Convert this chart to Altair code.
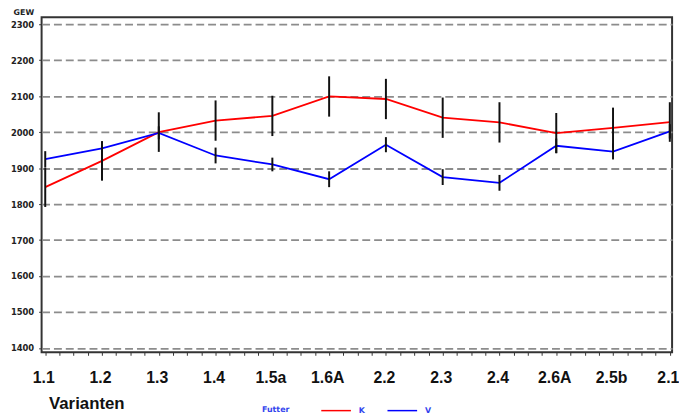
import altair as alt
import pandas as pd

categories = ["1.1", "1.2", "1.3", "1.4", "1.5a", "1.6A", "2.2", "2.3", "2.4", "2.6A", "2.5b", "2.1"]
k_values = [1847, 1920, 2000, 2032, 2045, 2099, 2092, 2040, 2027, 1997, 2012, 2028]
k_errors = [55, 55, 55, 56, 56, 56, 56, 56, 56, 56, 56, 55]
v_values = [1925, 1955, 1998, 1935, 1910, 1869, 1965, 1875, 1859, 1962, 1946, 2002]
v_errors = [22, 18, 18, 22, 19, 22, 21, 22, 22, 20, 22, 20]
y_ticks = [1400, 1500, 1600, 1700, 1800, 1900, 2000, 2100, 2200, 2300]
series_names = ["K", "V"]
series_colors = ["#ff0000", "#0000ff"]

rows = []
for i, c in enumerate(categories):
    rows.append({"idx": i, "cat": c, "Futter": "K", "value": k_values[i],
                 "lo": k_values[i] - k_errors[i], "hi": k_values[i] + k_errors[i]})
    rows.append({"idx": i, "cat": c, "Futter": "V", "value": v_values[i],
                 "lo": v_values[i] - v_errors[i], "hi": v_values[i] + v_errors[i]})
df = pd.DataFrame(rows)

cat_js = "[" + ",".join("'" + c + "'" for c in categories) + "]"
label_expr = f"abs(datum.value - round(datum.value)) < 0.01 ? {cat_js}[round(datum.value)] : ''"

x_scale = alt.Scale(domain=[-0.064, 11.04], nice=False, zero=False)
x_axis = alt.Axis(
    values=[i * 0.25 for i in range(45)],
    labelExpr=label_expr,
    labelOverlap=False,
    labelFlush=False,
    labelFont="Liberation Sans",
    labelFontWeight="bold",
    labelFontSize=16,
    labelColor="#111111",
    labelPadding=15,
    labelOffset=-2,
    tickSize=3,
    tickColor="#333333",
    domain=False,
    grid=False,
    title="Varianten",
    titleFont="Liberation Sans",
    titleFontWeight="bold",
    titleFontSize=17,
    titleColor="#111111",
    titleAnchor="start",
    titleAlign="left",
    titleX=7,
    titleY=52,
    titleBaseline="middle",
)

y_scale = alt.Scale(domain=[1388, 2319], nice=False, zero=False)
y_axis = alt.Axis(
    values=y_ticks,
    format="d",
    labelOverlap=False,
    labelFont="DejaVu Sans",
    labelFontWeight="bold",
    labelFontSize=8.5,
    labelColor="#222222",
    labelPadding=5,
    tickSize=3,
    tickColor="#333333",
    domain=False,
    grid=True,
    gridColor="#8c8c8c",
    gridDash=[8, 4],
    gridWidth=1.8,
    title="GEW",
    titleFont="DejaVu Sans",
    titleFontWeight="bold",
    titleFontSize=8,
    titleColor="#222222",
    titleAngle=0,
    titleAlign="right",
    titleBaseline="middle",
    titleX=-8,
    titleY=-5,
)

lines = alt.Chart(df).mark_line(strokeWidth=1.8).encode(
    x=alt.X("idx:Q", scale=x_scale, axis=x_axis),
    y=alt.Y("value:Q", scale=y_scale, axis=y_axis),
    color=alt.Color(
        "Futter:N",
        scale=alt.Scale(domain=series_names, range=series_colors),
        legend=alt.Legend(
            orient="none",
            legendX=223,
            legendY=392,
            direction="horizontal",
            titleOrient="left",
            title="Futter",
            titleFont="DejaVu Sans",
            titleFontSize=8,
            titleFontWeight="bold",
            titleColor="#3344ee",
            titlePadding=31,
            labelFont="DejaVu Sans",
            labelFontSize=8,
            labelFontWeight="bold",
            labelColor="#3344ee",
            labelOffset=27,
            columnPadding=19,
            symbolType="M-1,0L5,0",
            symbolSize=100,
            symbolStrokeWidth=1.5,
        ),
    ),
    detail="Futter:N",
)

errbars = alt.Chart(df).mark_rule(color="#111111", strokeWidth=2).encode(
    x=alt.X("idx:Q", scale=x_scale, axis=x_axis),
    y=alt.Y("lo:Q", scale=y_scale, axis=y_axis),
    y2="hi:Q",
)

chart = (
    alt.layer(lines, errbars)
    .properties(
        width=638,
        height=339,
        autosize=alt.AutoSizeParams(type="none"),
        padding={"left": 34, "top": 7, "right": 7, "bottom": 60},
        background="white",
    )
    .configure_view(stroke="#333333", strokeWidth=2)
)

chart.save("out.html", embed_options={"renderer": "svg", "actions": False})
